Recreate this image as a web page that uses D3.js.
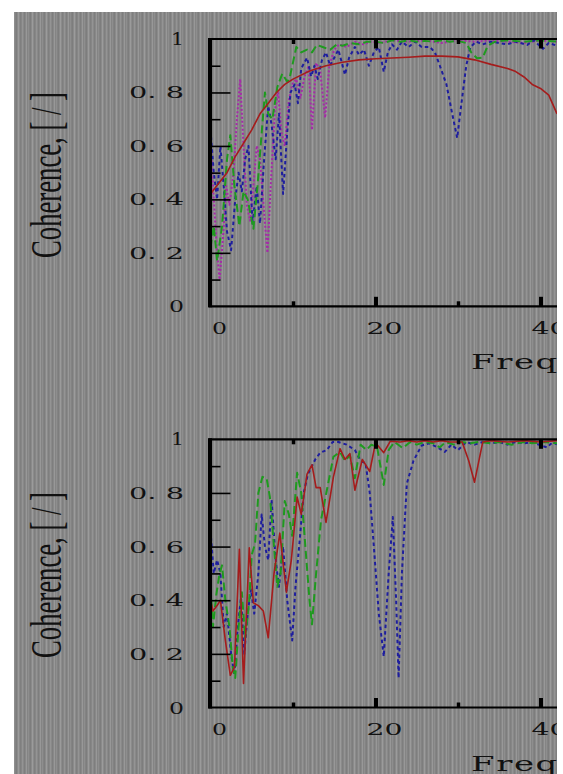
<!DOCTYPE html>
<html>
<head>
<meta charset="utf-8">
<script src="https://cdn.jsdelivr.net/npm/d3@7"></script>
<style>
  html, body { margin: 0; padding: 0; background: #fff; }
  svg { display: block; }
</style>
</head>
<body>
<script>
// ---- Data: coherence vs frequency (Hz) ----
// Upper panel
const topRedF = [0, 1, 2, 3, 4, 5, 6, 7, 8, 9, 10, 12, 14, 16, 18, 20, 22, 24, 26, 28, 30, 32, 34, 36, 37, 38, 39, 40, 41, 42];
const topRedV = [0.42, 0.46, 0.50, 0.56, 0.61, 0.66, 0.72, 0.76, 0.80, 0.83, 0.85, 0.88, 0.90, 0.913, 0.922, 0.926, 0.929, 0.932, 0.936, 0.936, 0.933, 0.922, 0.905, 0.89, 0.878, 0.858, 0.83, 0.815, 0.79, 0.72];

const topGreenF = [0, 0.4, 0.8, 1.4, 2.0, 2.4, 2.9, 3.5, 4.0, 4.5, 5.2, 5.7, 6.0, 6.6, 7.0, 7.5, 8.1, 8.7, 9.3, 9.6, 10.4, 11.0, 11.7, 12.3, 12.9, 13.6, 14.5, 15.3, 16, 17, 18, 19, 20, 21, 22, 23, 24, 25, 26, 27, 28, 29, 30, 31, 31.6, 32.3, 33, 33.6, 34.5, 36, 38, 40, 42];
const topGreenV = [0.22, 0.30, 0.17, 0.30, 0.55, 0.64, 0.45, 0.30, 0.43, 0.40, 0.29, 0.45, 0.57, 0.80, 0.72, 0.70, 0.82, 0.87, 0.84, 0.855, 0.97, 0.95, 0.96, 0.95, 0.978, 0.97, 0.96, 0.98, 0.975, 0.985, 0.98, 0.99, 0.99, 0.985, 0.995, 0.99, 0.995, 0.99, 0.993, 0.99, 0.995, 0.99, 0.993, 0.985, 0.95, 0.928, 0.93, 0.975, 0.99, 0.995, 0.99, 0.995, 0.99];

const topBlueF = [0, 0.4, 0.8, 1.2, 1.6, 2.0, 2.5, 3.0, 3.4, 3.8, 4.2, 4.6, 5.1, 5.6, 6.0, 6.5, 7.0, 7.4, 7.9, 8.3, 8.8, 9.3, 9.7, 10.2, 10.6, 11.0, 11.7, 12.2, 12.6, 13.0, 13.5, 14, 14.5, 15, 15.5, 16.3, 16.8, 17.5, 18, 18.6, 19.2, 19.8, 20.4, 21, 21.5, 22, 22.6, 23.2, 24, 24.8, 25.6, 26.6, 27.2, 27.8, 28.6, 29.3, 29.9, 30.5, 31, 31.5, 32.2, 33, 34, 35, 36, 37, 38.4, 39.2, 40.3, 41, 42];
const topBlueV = [0.66, 0.50, 0.40, 0.60, 0.45, 0.28, 0.21, 0.40, 0.50, 0.43, 0.55, 0.60, 0.31, 0.45, 0.31, 0.55, 0.75, 0.68, 0.55, 0.72, 0.42, 0.65, 0.80, 0.83, 0.76, 0.89, 0.93, 0.86, 0.90, 0.85, 0.92, 0.95, 0.90, 0.93, 0.96, 0.866, 0.93, 0.97, 0.94, 0.96, 0.90, 0.95, 0.97, 0.877, 0.95, 0.98, 0.96, 0.99, 0.97, 0.99, 0.97, 0.97, 0.95, 0.90, 0.83, 0.72, 0.63, 0.78, 0.90, 0.97, 0.99, 0.98, 0.99, 0.985, 0.98, 0.99, 0.978, 0.995, 0.963, 0.985, 0.975];

const topMagentaF = [0, 0.4, 0.8, 1.1, 1.5, 1.9, 2.3, 2.8, 3.2, 3.6, 4.0, 4.4, 4.8, 5.2, 5.6, 6.0, 6.5, 6.9, 7.3, 7.8, 8.2, 8.6, 9.0, 9.5, 9.9, 10.4, 10.9, 11.4, 11.9, 12.3, 12.8, 13.3, 13.9, 14.4, 15, 15.6, 16.5, 17.5, 18.5, 19.5, 20.5, 22, 24, 26, 28, 30, 32, 34, 36, 38, 40, 42];
const topMagentaV = [0.62, 0.40, 0.20, 0.10, 0.25, 0.45, 0.38, 0.50, 0.70, 0.85, 0.60, 0.38, 0.32, 0.45, 0.60, 0.55, 0.35, 0.20, 0.45, 0.73, 0.80, 0.65, 0.60, 0.77, 0.83, 0.85, 0.78, 0.86, 0.90, 0.66, 0.91, 0.88, 0.705, 0.90, 0.96, 0.98, 0.97, 0.99, 0.98, 0.99, 0.985, 0.995, 0.99, 0.995, 0.985, 0.995, 0.99, 0.995, 0.99, 0.985, 0.995, 0.99];

// Lower panel
const botRedF = [0, 0.3, 0.8, 1.2, 1.8, 2.4, 2.9, 3.5, 4.0, 4.7, 5.2, 5.8, 6.4, 7.0, 7.7, 8.4, 9.2, 9.8, 10.5, 11.0, 11.7, 12.3, 12.8, 13.3, 14.0, 14.9, 15.7, 16.3, 16.9, 17.5, 18.4, 19.3, 20.0, 21.0, 21.8, 23, 24, 25, 26, 27, 28, 29, 30.5, 31.3, 32, 32.6, 33, 34, 36, 38, 40, 42];
const botRedV = [0.40, 0.36, 0.38, 0.40, 0.25, 0.12, 0.15, 0.59, 0.09, 0.595, 0.39, 0.38, 0.36, 0.26, 0.50, 0.65, 0.43, 0.55, 0.785, 0.72, 0.87, 0.905, 0.82, 0.82, 0.69, 0.86, 0.965, 0.925, 0.947, 0.81, 0.925, 0.88, 0.987, 0.95, 0.993, 0.99, 0.995, 0.99, 0.995, 0.99, 0.995, 0.99, 0.99, 0.92, 0.84, 0.93, 0.99, 0.995, 0.99, 0.995, 0.99, 0.995];

const botGreenF = [0, 0.3, 0.7, 1.1, 1.4, 1.8, 2.3, 2.7, 3.0, 3.4, 3.8, 4.2, 4.7, 5.0, 5.4, 5.8, 6.3, 6.8, 7.2, 7.7, 8.1, 8.5, 9.0, 9.5, 9.9, 10.5, 11.0, 11.5, 12.0, 12.3, 12.8, 13.4, 14.1, 14.9, 15.7, 16.3, 16.9, 17.5, 18.2, 18.9, 19.5, 20.2, 21.0, 21.6, 22.3, 23.3, 24.2, 25, 26, 27, 27.8, 28.5, 29.5, 30.5, 31.5, 32.5, 34, 35, 36.5, 38, 39, 40.5, 42];
const botGreenV = [0.45, 0.30, 0.42, 0.50, 0.53, 0.40, 0.30, 0.15, 0.11, 0.30, 0.43, 0.26, 0.40, 0.57, 0.61, 0.80, 0.86, 0.855, 0.785, 0.60, 0.45, 0.50, 0.77, 0.72, 0.64, 0.875, 0.80, 0.60, 0.40, 0.31, 0.50, 0.70, 0.81, 0.935, 0.953, 0.92, 0.94, 0.855, 0.98, 0.96, 0.98, 0.97, 0.83, 0.96, 0.99, 0.967, 0.99, 0.98, 0.99, 0.985, 0.97, 0.99, 0.98, 0.99, 0.985, 0.99, 0.985, 0.99, 0.98, 0.99, 0.985, 0.99, 0.985];

const botBlueF = [0, 0.4, 0.8, 1.2, 1.6, 2.0, 2.5, 2.9, 3.3, 3.7, 4.1, 4.5, 4.9, 5.3, 5.8, 6.2, 6.6, 7.0, 7.4, 7.9, 8.3, 8.8, 9.3, 9.9, 10.3, 10.8, 11.3, 11.8, 12.3, 12.7, 13.3, 14.1, 14.8, 15.5, 16.5, 17.5, 18.2, 18.8, 19.3, 19.8, 20.4, 21.0, 21.6, 22.1, 22.5, 22.8, 23.2, 23.8, 24.6, 25.6, 26.5, 27.5, 28.4, 29.2, 30, 31, 32, 33, 34, 35, 36, 37, 38, 39, 40.2, 40.8, 41.5, 42];
const botBlueV = [0.66, 0.50, 0.55, 0.50, 0.30, 0.35, 0.20, 0.12, 0.30, 0.41, 0.20, 0.35, 0.44, 0.35, 0.50, 0.72, 0.60, 0.55, 0.775, 0.55, 0.45, 0.60, 0.40, 0.25, 0.45, 0.62, 0.80, 0.87, 0.90, 0.925, 0.95, 0.96, 0.99, 0.99, 0.98, 0.96, 0.92, 0.91, 0.80, 0.60, 0.35, 0.19, 0.50, 0.71, 0.40, 0.11, 0.50, 0.835, 0.92, 0.977, 0.985, 0.97, 0.953, 0.98, 0.96, 0.99, 0.98, 0.99, 0.985, 0.99, 0.98, 0.99, 0.985, 0.99, 0.975, 0.97, 0.99, 0.98];

// Axis ticks
const yTickValues = [0, 0.2, 0.4, 0.6, 0.8, 1];
const yTickLabels = ["0", "0. 2", "0. 4", "0. 6", "0. 8", "1"];
const yMinorTicks = [0.1, 0.3, 0.5, 0.7, 0.9];
const xTickValues = [0, 20, 40];
const xTickLabels = ["0", "20", "40"];
const xMinorTicks = [10, 30];
const xMajorInner = [20, 40];

const yTitle = "Coherence, [ / ]";
const xTitle = "Frequency, [Hz]";

// ---- Layout ----
const W = 563, H = 774;
const plotLeft = 210.5, plotRight = 557;
const panels = [
  { top: 39, bottom: 306.3, titleY: 175,
    series: [
      { f: topMagentaF, v: topMagentaV, color: "#a52aa8", dash: "2,2", w: 2 },
      { f: topBlueF, v: topBlueV, color: "#1e1e9e", dash: "3.5,3", w: 2 },
      { f: topGreenF, v: topGreenV, color: "#1f9a1f", dash: "8,4", w: 2 },
      { f: topRedF, v: topRedV, color: "#a51c1c", dash: null, w: 1.6 }
    ] },
  { top: 439.3, bottom: 707.5, titleY: 575,
    series: [
      { f: botBlueF, v: botBlueV, color: "#1e1e9e", dash: "3.5,3", w: 2 },
      { f: botGreenF, v: botGreenV, color: "#1f9a1f", dash: "8,4", w: 2 },
      { f: botRedF, v: botRedV, color: "#a51c1c", dash: null, w: 1.6 }
    ] }
];

const svg = d3.select("body").append("svg")
  .attr("width", W).attr("height", H)
  .attr("viewBox", `0 0 ${W} ${H}`);

// Striped grey backdrop
const stripeShades = ["#8e8e8e", "#838383", "#7d7d7d", "#8a8a8a", "#9b9b9b", "#8b8b8b", "#7f7f7f",
                      "#868686", "#949494", "#898989", "#7e7e7e", "#888888", "#989898", "#848484"];
const defs = svg.append("defs");
const pat = defs.append("pattern").attr("id", "bgStripes")
  .attr("patternUnits", "userSpaceOnUse")
  .attr("x", 14).attr("y", 0)
  .attr("width", stripeShades.length).attr("height", 10);
stripeShades.forEach((c, i) => {
  pat.append("rect").attr("x", i).attr("y", 0).attr("width", 1).attr("height", 10).attr("fill", c);
});
svg.append("rect").attr("x", 0).attr("y", 0).attr("width", W).attr("height", H).attr("fill", "#fff");
svg.append("rect").attr("x", 14).attr("y", 12).attr("width", plotRight - 14).attr("height", H - 12)
  .attr("fill", "url(#bgStripes)");

defs.append("clipPath").attr("id", "pageClip")
  .append("rect").attr("x", 14).attr("y", 12).attr("width", plotRight - 14).attr("height", H - 12);

const root = svg.append("g").attr("clip-path", "url(#pageClip)");

const x = d3.scaleLinear().domain([0, 50]).range([plotLeft, plotLeft + 8.25 * 50]);

const serif = "'DejaVu Serif', 'Liberation Serif', serif";

panels.forEach((p, pi) => {
  const y = d3.scaleLinear().domain([0, 1]).range([p.bottom, p.top]);
  const g = root.append("g");

  const clipId = "plotClip" + pi;
  defs.append("clipPath").attr("id", clipId)
    .append("rect").attr("x", plotLeft).attr("y", p.top - 2)
    .attr("width", plotRight - plotLeft).attr("height", p.bottom - p.top + 2);

  // Series
  const lines = g.append("g").attr("clip-path", `url(#${clipId})`);
  p.series.forEach(s => {
    const pts = s.f.map((f, i) => [f, s.v[i]]);
    const line = d3.line().x(d => x(d[0])).y(d => y(d[1]));
    lines.append("path")
      .attr("d", line(pts))
      .attr("fill", "none")
      .attr("stroke", s.color)
      .attr("stroke-width", s.w)
      .attr("stroke-linejoin", "round")
      .attr("stroke-dasharray", s.dash);
  });

  // Y ticks pointing inward from the left spine
  const yMajor = d3.axisRight(y).tickValues(yTickValues.filter(v => v > 0 && v < 1))
    .tickSize(20).tickFormat("");
  const yMinor = d3.axisRight(y).tickValues(yMinorTicks).tickSize(10).tickFormat("");
  [yMajor, yMinor].forEach(ax => {
    const a = g.append("g").attr("transform", `translate(${plotLeft},0)`).call(ax);
    a.select(".domain").remove();
    a.selectAll(".tick line").attr("stroke", "#000").attr("stroke-width", 1.6);
  });

  // X ticks on bottom (pointing up) and top (pointing down)
  const xTickSets = [
    { vals: xMinorTicks, len: 5, w: 3.5 },
    { vals: xMajorInner, len: 9.5, w: 4 }
  ];
  xTickSets.forEach(ts => {
    const bAx = d3.axisTop(x).tickValues(ts.vals).tickSize(ts.len).tickFormat("");
    const tAx = d3.axisBottom(x).tickValues(ts.vals).tickSize(ts.len).tickFormat("");
    const b = g.append("g").attr("transform", `translate(0,${p.bottom})`).call(bAx);
    const t = g.append("g").attr("transform", `translate(0,${p.top})`).call(tAx);
    [b, t].forEach(a => {
      a.select(".domain").remove();
      a.selectAll(".tick line").attr("stroke", "#000").attr("stroke-width", ts.w);
    });
  });

  // Frame: thick left spine, top and bottom spines
  g.append("line").attr("x1", plotLeft - 2).attr("x2", plotRight + 2)
    .attr("y1", p.top).attr("y2", p.top).attr("stroke", "#000").attr("stroke-width", 2.2);
  g.append("line").attr("x1", plotLeft - 2).attr("x2", plotRight + 2)
    .attr("y1", p.bottom).attr("y2", p.bottom).attr("stroke", "#000").attr("stroke-width", 2.2);
  g.append("line").attr("x1", plotLeft - 0.5).attr("x2", plotLeft - 0.5)
    .attr("y1", p.top - 1).attr("y2", p.bottom + 1).attr("stroke", "#000").attr("stroke-width", 4);

  // Y tick labels
  const yLabW = { "0": 15, "1": 13 };
  yTickValues.forEach((v, i) => {
    const lab = yTickLabels[i];
    g.append("text")
      .attr("x", 184).attr("y", y(v) + 6)
      .attr("text-anchor", "end")
      .attr("font-family", serif).attr("font-size", 17)
      .attr("fill", "#111")
      .attr("textLength", yLabW[lab] || 55)
      .attr("lengthAdjust", "spacingAndGlyphs")
      .text(lab);
  });

  // X tick labels
  xTickValues.forEach((v, i) => {
    const lab = xTickLabels[i];
    const wdt = lab.length === 1 ? 15 : 36;
    g.append("text")
      .attr("x", x(v) + 9 - wdt / 2).attr("y", p.bottom + 27.5)
      .attr("font-family", serif).attr("font-size", 17)
      .attr("fill", "#111")
      .attr("textLength", wdt)
      .attr("lengthAdjust", "spacingAndGlyphs")
      .text(lab);
  });

  // X title, widened
  const xt = g.append("text")
    .attr("font-family", serif).attr("font-size", 21)
    .attr("letter-spacing", 1)
    .attr("fill", "#111");
  xt.text("Freq");
  const wFreq = xt.node().getComputedTextLength();
  const sx = 88 / wFreq;
  xt.text(xTitle).attr("transform", `translate(471,${p.bottom + 63}) scale(${sx},1)`);

  // Y title, condensed and rotated
  g.append("text")
    .attr("transform", `translate(61,${p.titleY}) rotate(-90)`)
    .attr("text-anchor", "middle")
    .attr("font-family", "'Liberation Serif', 'DejaVu Serif', serif")
    .attr("font-size", 44)
    .attr("fill", "#111")
    .attr("textLength", 166)
    .attr("lengthAdjust", "spacingAndGlyphs")
    .text(yTitle);
});
</script>
</body>
</html>
